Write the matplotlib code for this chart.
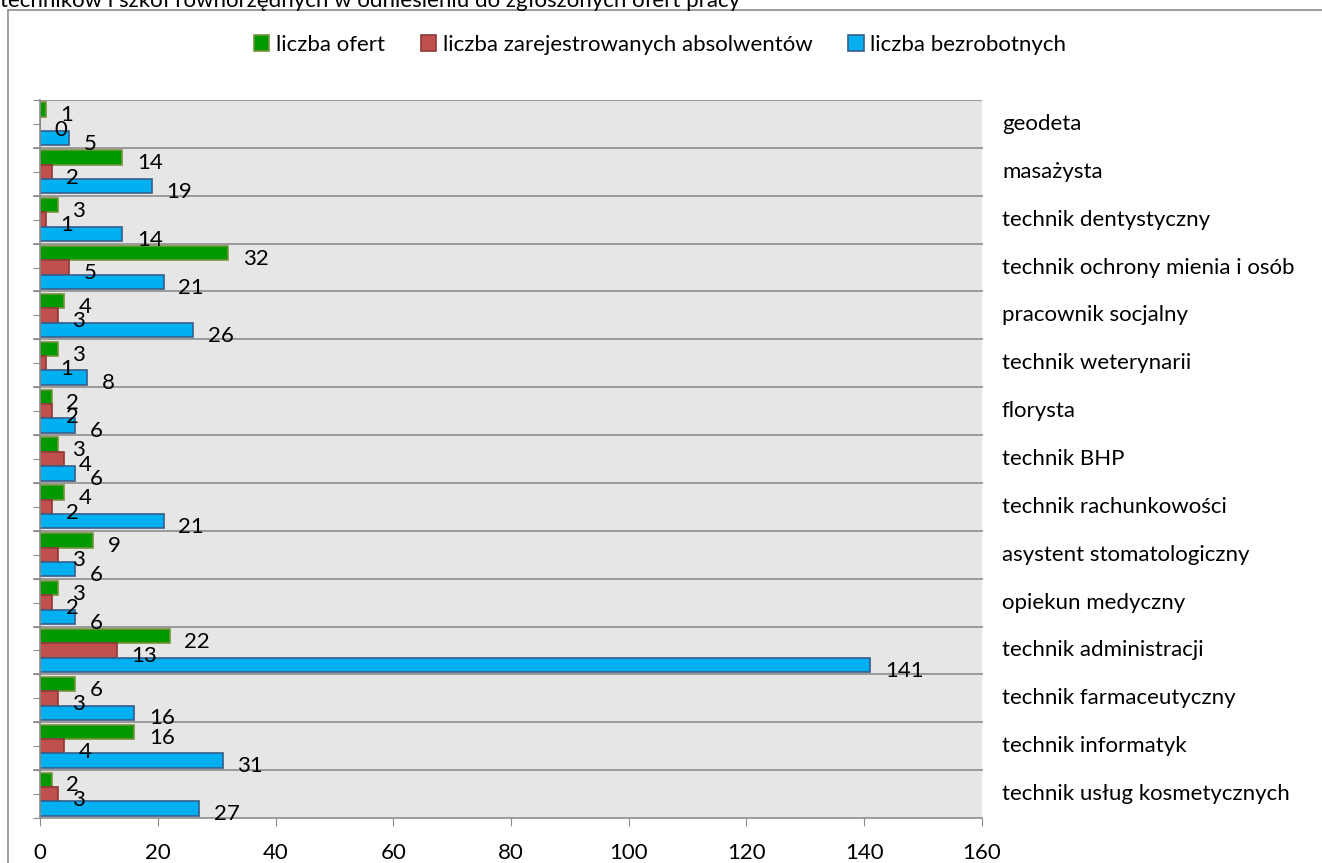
import numpy as np
import matplotlib.pyplot as plt
from matplotlib.patches import Rectangle
from matplotlib.transforms import blended_transform_factory

plt.rcParams['font.family'] = ['Lato', 'DejaVu Sans']

zawody = ["geodeta", "masażysta", "technik dentystyczny", "technik ochrony mienia i osób",
          "pracownik socjalny", "technik weterynarii", "florysta", "technik BHP",
          "technik rachunkowości", "asystent stomatologiczny", "opiekun medyczny",
          "technik administracji", "technik farmaceutyczny", "technik informatyk",
          "technik usług kosmetycznych"]
oferty = [1, 14, 3, 32, 4, 3, 2, 3, 4, 9, 3, 22, 6, 16, 2]
absolwenci = [0, 2, 1, 5, 3, 1, 2, 4, 2, 3, 2, 13, 3, 4, 3]
bezrobotni = [5, 19, 14, 21, 26, 8, 6, 6, 21, 6, 6, 141, 16, 31, 27]

serie = [("liczba ofert", oferty, "#009900", "#76923C"),
         ("liczba zarejestrowanych absolwentów", absolwenci, "#C0504D", "#8C3836"),
         ("liczba bezrobotnych", bezrobotni, "#00B0F0", "#385D8A")]

fs = 16
szary = "#8C8C8C"
fig = plt.figure(figsize=(13.22, 8.63), dpi=100)
fig.patches.append(Rectangle((8 / 1322, -0.1), 1.2, (863 - 10) / 863 + 0.1,
                             transform=fig.transFigure, fill=False,
                             edgecolor=szary, linewidth=1.2))
fig.text(0.0, 1.0 - 1 / 863, "techników i szkół równorzędnych w odniesieniu do zgłoszonych ofert pracy",
         fontsize=fs, va="center", ha="left")

ax = fig.add_axes([40 / 1322, 1 - 818 / 863, 942 / 1322, 718 / 863])
ax.set_facecolor("#E6E6E6")

n = len(zawody)
y = np.arange(n)
h = 0.3
for i, (nazwa, vals, kolor, krawedz) in enumerate(serie):
    pos = y - h + i * h
    ax.barh(pos, vals, height=h, color=kolor, edgecolor=krawedz, linewidth=1.2, label=nazwa)
    for p, v in zip(pos, vals):
        ax.text(v + 2.5, p + 0.12, str(v), fontsize=fs, va="center", ha="left")

ax.set_xlim(0, 160)
ax.set_ylim(n - 0.5, -0.5)
ax.set_xticks(np.arange(0, 161, 20))
ax.set_yticks(np.arange(-0.5, n, 0.5))
ax.set_yticklabels([])
ax.tick_params(axis="x", labelsize=fs, length=6, color=szary, pad=12)
ax.tick_params(axis="y", length=5, color=szary)
for b in np.arange(0.5, n - 0.5, 1):
    ax.axhline(b, color=szary, linewidth=1.2, xmin=-0.006, clip_on=False)
for s in ["top", "right"]:
    ax.spines[s].set_visible(False)
for s in ["left", "bottom"]:
    ax.spines[s].set_color(szary)
    ax.spines[s].set_linewidth(1.2)
ax.axhline(-0.5, color=szary, linewidth=1.2)

# kategorie po prawej stronie
tr = blended_transform_factory(fig.transFigure, ax.transData)
for i, z in enumerate(zawody):
    fig.text(1002 / 1322, i, z, transform=tr, fontsize=fs, va="center", ha="left")

fig.legend(loc="center", bbox_to_anchor=(660 / 1322, 1 - 45 / 863), ncol=3, frameon=False,
           fontsize=fs, handlelength=0.7, handleheight=0.7, handletextpad=0.3, columnspacing=1.6)

fig.savefig("out.png", dpi=100)
